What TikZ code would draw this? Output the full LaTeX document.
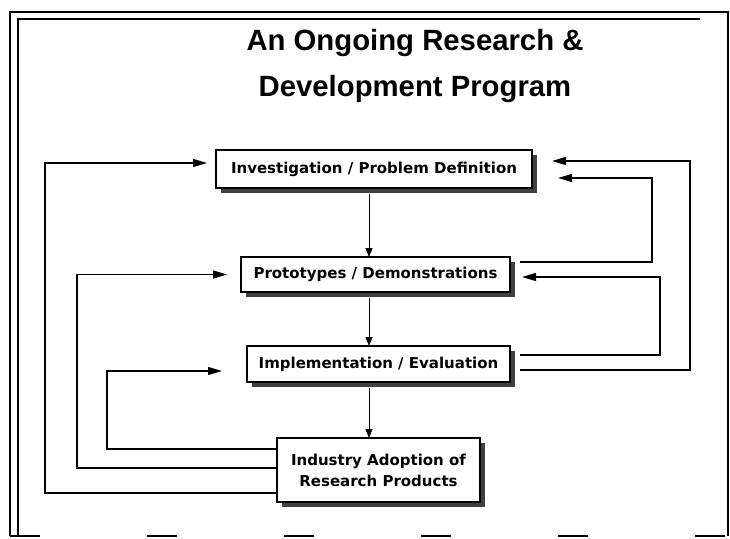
\documentclass[tikz,border=0pt]{standalone}
\usepackage{fontspec}
\setmainfont{Liberation Sans}
\newfontfamily\boxfont{DejaVu Sans}
\usetikzlibrary{arrows.meta,shadows}
\begin{document}
\begin{tikzpicture}[x=1pt,y=-1pt,
  frameline/.style={line width=2.4pt},
  procbox/.style={draw=black,line width=1.2pt,fill=white,inner sep=0pt,outer sep=0pt,align=center,
    font=\boxfont\bfseries\fontsize{15}{21}\selectfont,
    drop shadow={shadow xshift=5pt,shadow yshift=-5pt,fill=black!75,opacity=1}},
  flow/.style={line width=1.3pt,-{Triangle[length=14pt,width=8pt]}},
  down/.style={line width=0.9pt,-{Triangle[length=9pt,width=7pt]}}]
\useasboundingbox (0,0) rectangle (730,538);
% frame
\draw[frameline] (10,536) -- (10,12) -- (728,12) -- (728,536);
\draw[line width=1.6pt] (18,536) -- (18,19) -- (700,19);
\draw[line width=2pt,dash pattern=on 30pt off 107pt] (10,536) -- (728,536);
% title
\node (title) at (415,66) [align=center,font=\bfseries\fontsize{29.3}{46}\selectfont] {An Ongoing Research \&\\Development Program};
% boxes
\node[procbox,minimum width=316pt,minimum height=38pt] (b1) at (374,169) {Investigation / Problem Definition};
\node[procbox,minimum width=269pt,minimum height=35pt] (b2) at (375.5,274.5) {Prototypes / Demonstrations};
\node[procbox,minimum width=263pt,minimum height=36pt] (b3) at (378.5,364) {Implementation / Evaluation};
\node[procbox,minimum width=203pt,minimum height=64pt] (b4) at (378.5,470) {Industry Adoption of\\Research Products};
% downward arrows
\coordinate (ax) at (369,0);
\draw[down] (b1.south -| ax) ++(0,6) -- (b2.north -| ax);
\draw[down] (b2.south -| ax) ++(0,6) -- (b3.north -| ax);
\draw[down] (b3.south -| ax) ++(0,6) -- (b4.north -| ax);
% left feedback loops
\draw[flow] ([yshift=-23pt]b4.west) -- (45,493) -- (45,163) -- ([xshift=-9pt,yshift=6pt]b1.west);
\draw[flow] ([yshift=2pt]b4.west) -- (77,468) -- (77,274.5) -- ([xshift=-14pt]b2.west);
\draw[flow] ([yshift=21pt]b4.west) -- (107,449) -- (107,371) -- ([xshift=-25pt,yshift=-7pt]b3.west);
% right feedback loops
\draw[flow] ([xshift=10pt,yshift=12.5pt]b2.east) -- (652,262) -- (652,178) -- ([xshift=26pt,yshift=-9pt]b1.east);
\draw[flow] ([xshift=10pt,yshift=9pt]b3.east) -- (660,355) -- (660,277) -- ([xshift=12pt,yshift=-2.5pt]b2.east);
\draw[flow] ([xshift=10pt,yshift=-6pt]b3.east) -- (690,370) -- (690,161) -- ([xshift=20pt,yshift=8pt]b1.east);
\end{tikzpicture}
\end{document}
